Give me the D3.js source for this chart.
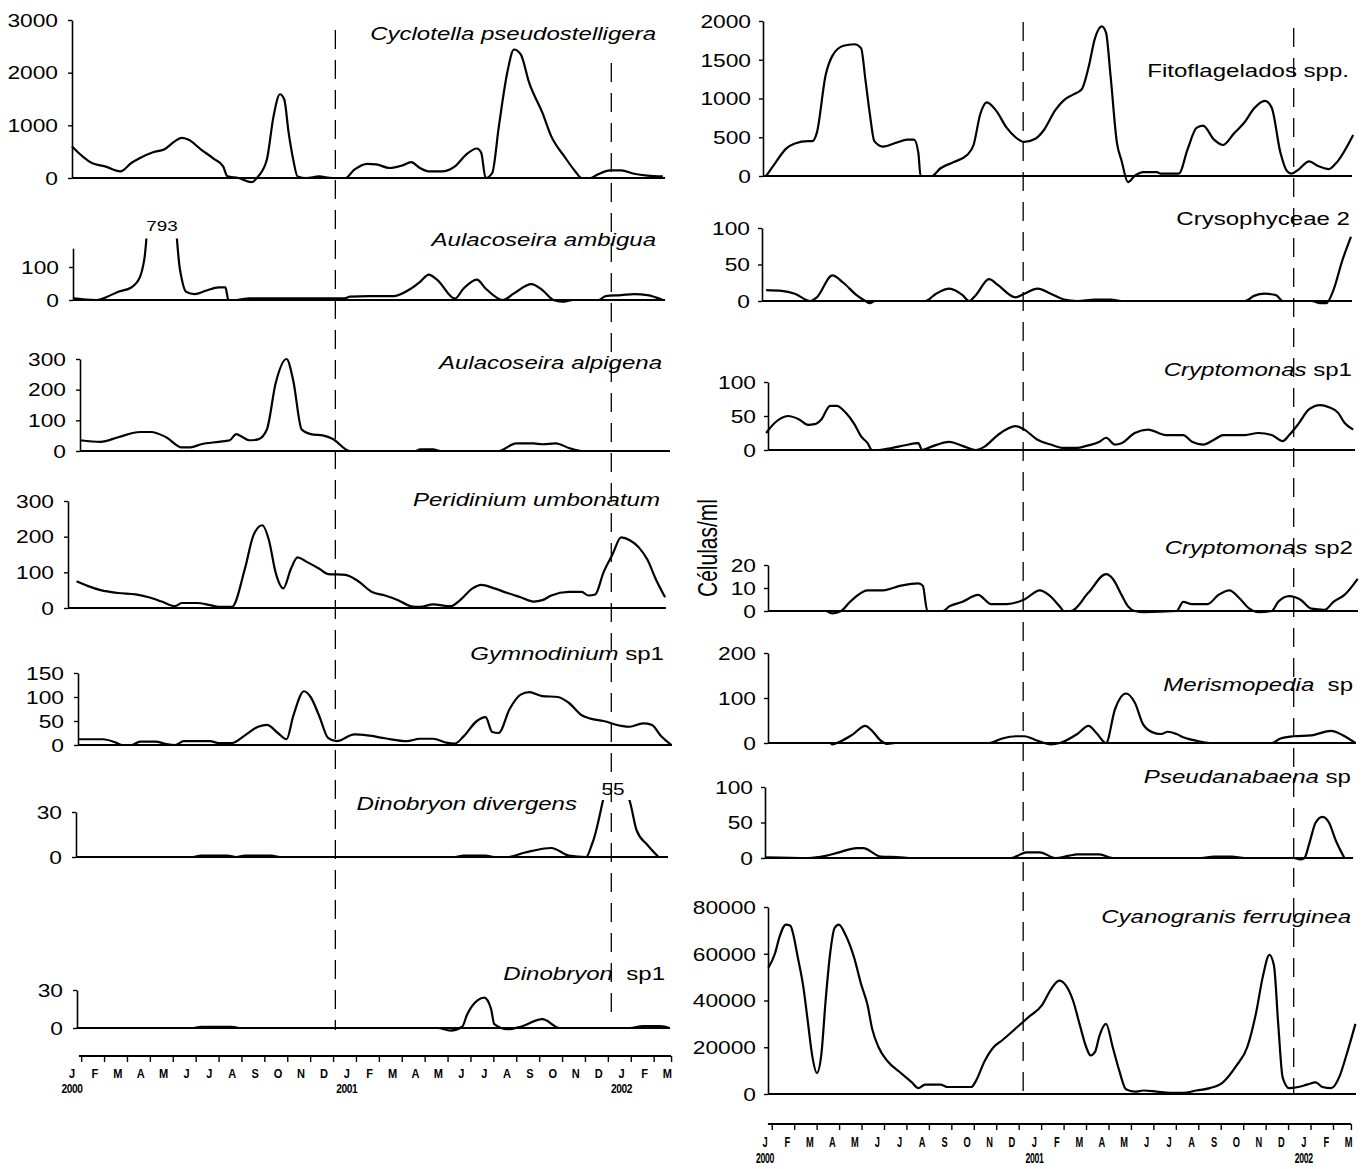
<!DOCTYPE html>
<html>
<head>
<meta charset="utf-8">
<script src="https://cdn.jsdelivr.net/npm/d3@7"></script>
<style>
  body { margin: 0; background: #fff; }
</style>
</head>
<body>
<div id="chart"></div>
<script>
// months counted from Jan 2000 (0) to Mar 2002 (26); values in cells/ml
var monthLetters = ["J","F","M","A","M","J","J","A","S","O","N","D","J","F","M","A","M","J","J","A","S","O","N","D","J","F","M"];
var yearMonths = [0, 12, 24];
var yearLabels = ["2000", "2001", "2002"];
var yearBreaks = [11.5, 23.55];

/// left column
var cyclotella = [[0,600],[0.87,285],[1.44,220],[2.11,125],[2.59,285],[2.97,380],[3.54,490],[4.02,540],[4.5,700],[4.79,760],[5.07,730],[5.64,540],[6.21,360],[6.6,220],[6.79,30],[7.27,0],[7.84,-80],[8.13,30],[8.51,350],[8.8,1170],[9.08,1590],[9.27,1490],[9.46,860],[9.66,350],[9.85,30],[10.23,0],[10.79,30],[11.37,0],[11.94,0],[12.33,160],[12.9,270],[13.28,260],[13.86,190],[14.43,240],[14.81,300],[15.19,190],[15.56,125],[16.15,125],[16.72,220],[17.2,440],[17.68,560],[17.87,480],[18.06,0],[18.35,95],[18.64,980],[19.02,2030],[19.3,2440],[19.59,2350],[19.97,1800],[20.54,1240],[20.93,790],[21.5,410],[21.98,125],[22.26,0],[22.64,0],[22.93,60],[23.5,145],[23.98,145],[24.55,80],[25.13,45],[25.8,30]];
var ambigua = [[0.07,5],[0.49,2],[1.06,0],[1.54,10],[2.02,25],[2.59,38],[2.97,70],[3.15,120],[3.9,793],[4.72,90],[4.98,25],[5.36,18],[5.84,28],[6.41,38],[6.7,38],[6.83,0],[7.2,0],[7.74,5],[11.9,5],[12.14,10],[13.0,12],[14.05,12],[14.81,35],[15.2,55],[15.58,77],[15.96,60],[16.72,4],[17.1,35],[17.68,62],[18.06,35],[18.82,0],[19.3,20],[20.06,48],[20.54,30],[21.02,0],[21.4,-5],[21.9,0],[23.0,0],[23.3,12],[23.98,15],[24.55,18],[25.13,15],[25.8,0]];
var alpigena = [[0.36,35],[1.25,30],[2.02,45],[2.97,62],[3.45,62],[4.11,45],[4.79,12],[5.17,12],[5.64,22],[6.41,30],[6.89,35],[7.17,55],[7.46,45],[7.74,35],[8.13,38],[8.51,70],[8.89,220],[9.37,300],[9.66,230],[10.03,70],[10.42,55],[10.99,50],[11.37,40],[12.14,0],[15.0,0],[15.2,5],[15.77,5],[16.1,0],[18.63,0],[19.4,25],[20.16,25],[20.54,22],[21.12,25],[21.69,10],[22.26,0],[26.08,0]];
var peridinium = [[0.2,75],[0.68,62],[1.25,50],[2.02,42],[2.78,38],[3.35,30],[3.92,18],[4.5,5],[4.79,14],[5.45,14],[6.03,8],[6.41,3],[6.98,3],[7.55,110],[7.93,205],[8.31,232],[8.6,190],[8.89,100],[9.23,55],[9.56,110],[9.85,142],[10.23,130],[10.8,110],[11.18,95],[11.94,93],[12.5,75],[13.1,45],[13.67,35],[14.24,22],[14.81,5],[15.2,3],[15.77,10],[16.53,5],[16.91,20],[17.49,55],[17.87,65],[18.44,55],[19.02,42],[19.59,30],[20.16,18],[20.54,22],[20.93,35],[21.69,45],[22.26,45],[22.55,35],[22.85,38],[23.21,100],[23.6,150],[23.98,198],[24.36,190],[24.75,170],[25.13,135],[25.5,80],[25.9,30]];
var gymnodinium = [[0.26,12],[1.35,12],[1.92,5],[2.2,0],[2.6,0],[2.97,7],[3.64,7],[4.11,2],[4.5,0],[4.88,8],[6.03,8],[6.41,4],[6.98,4],[7.55,20],[8.13,38],[8.51,42],[8.99,25],[9.37,12],[9.66,60],[10.13,112],[10.42,100],[10.8,60],[11.18,15],[11.56,8],[12.33,22],[12.9,20],[13.67,14],[14.62,8],[15.19,13],[15.77,13],[16.34,5],[16.72,3],[17.1,18],[17.68,50],[18.06,58],[18.35,27],[18.63,25],[19.11,75],[19.59,105],[19.97,110],[20.54,102],[21.21,100],[21.69,88],[22.26,62],[22.64,55],[23.21,50],[23.98,40],[24.36,38],[24.93,45],[25.32,42],[25.7,20],[26.18,0]];
var divergens = [[0.2,0],[5.26,0],[5.64,1],[6.79,1],[7.17,0],[7.55,1],[8.7,1],[9.08,0],[16.72,0],[17.1,1],[18.06,1],[18.44,0],[19.02,0],[19.78,3],[20.93,6],[21.69,1],[22.45,0],[22.74,10],[23.6,55],[24.36,37],[24.65,18],[25.13,8],[25.61,0]];
var dinobryonSp1 = [[0.2,0],[5.3,0],[5.64,1],[6.98,1],[7.3,0],[15.96,0],[16.53,-2],[17.04,1],[17.24,10],[17.72,22],[18.0,24],[18.3,15],[18.44,3],[19.02,-1],[19.59,1],[20.54,7],[21.3,0],[24.36,0],[24.93,1.5],[25.7,1.5],[26.08,0]];

/// right column
var fitoflagelados = [[0.05,0],[0.44,160],[0.93,350],[1.33,420],[1.92,450],[2.11,450],[2.31,560],[2.7,1300],[3.0,1550],[3.49,1680],[3.98,1700],[4.28,1650],[4.47,1250],[4.67,800],[4.87,450],[5.26,380],[5.85,430],[6.34,470],[6.64,470],[6.83,300],[6.93,0],[7.42,0],[7.82,100],[8.41,180],[9.0,270],[9.29,400],[9.59,800],[9.88,950],[10.28,850],[10.77,620],[11.16,500],[11.55,440],[12.04,480],[12.44,600],[12.93,850],[13.32,980],[13.72,1050],[14.11,1120],[14.41,1400],[14.7,1780],[15.0,1930],[15.19,1850],[15.39,1300],[15.68,420],[15.88,200],[16.17,-80],[16.46,0],[16.86,50],[17.45,50],[17.65,30],[18.43,30],[18.83,350],[19.22,620],[19.51,650],[20.0,470],[20.4,400],[20.89,550],[21.38,700],[21.78,870],[22.27,970],[22.57,880],[22.96,300],[23.26,60],[23.45,30],[23.75,80],[24.24,190],[24.63,130],[25.12,90],[25.42,160],[26.2,530]];
var crysophyceae = [[0.05,15],[0.74,14],[1.33,10],[2.02,0],[2.31,5],[3.0,35],[3.49,25],[4.08,8],[4.47,0],[4.67,-3],[4.9,0],[7.13,0],[7.62,10],[8.21,17],[8.8,8],[9.09,0],[9.39,8],[9.98,30],[10.37,22],[11.16,5],[11.55,10],[12.14,17],[12.73,10],[13.32,2],[13.91,0],[14.7,2],[15.4,2],[15.88,0],[21.38,0],[21.78,7],[22.27,10],[22.76,8],[23.06,0],[24.34,0],[24.73,-3],[25.0,-3],[25.32,15],[25.71,55],[26.1,88]];
var cryptomonas1 = [[0.05,25],[0.44,40],[1.03,50],[1.52,45],[1.92,37],[2.21,38],[2.51,45],[2.9,65],[3.2,65],[3.59,55],[3.98,38],[4.28,20],[4.57,10],[4.77,0],[5.06,0],[5.65,3],[6.24,7],[6.83,10],[7.0,0],[7.42,5],[8.21,12],[8.8,6],[9.39,0],[9.78,5],[10.37,22],[11.16,35],[11.55,30],[12.14,15],[12.73,8],[13.32,3],[13.91,3],[14.31,6],[14.9,12],[15.19,18],[15.59,8],[15.88,10],[16.47,25],[17.06,30],[17.85,22],[18.63,22],[19.02,12],[19.51,8],[20.0,15],[20.4,22],[21.38,22],[21.97,25],[22.57,22],[23.06,13],[23.35,22],[23.75,38],[24.24,60],[24.73,66],[25.12,63],[25.52,55],[25.81,40],[26.2,30]];
var cryptomonas2 = [[0.15,0],[2.7,0],[3.0,-1],[3.39,0],[3.79,4],[4.57,9],[5.26,9],[6.05,11],[6.83,12],[7.03,11],[7.23,0],[7.92,0],[8.21,2],[8.8,4],[9.49,7],[10.08,3],[10.77,3],[11.55,5],[12.24,9],[12.64,7],[13.13,2],[13.32,0],[13.62,0],[14.41,8],[15.19,16],[15.49,14],[15.88,7],[16.17,2],[16.47,0],[16.9,-0.5],[18.33,0],[18.63,4],[19.02,3],[19.71,3],[20.2,7],[20.69,9],[21.09,6],[21.58,1],[21.97,-0.5],[22.57,0],[22.86,4],[23.35,6.5],[23.84,5],[24.34,1],[24.93,0.5],[25.32,4],[25.81,7],[26.4,14]];
var merismopedia = [[0.15,0],[2.9,0],[3.0,-3],[3.3,2],[3.88,18],[4.47,38],[4.75,28],[5.16,5],[5.46,-2],[5.8,0],[9.98,0],[10.57,10],[11.16,15],[11.55,15],[12.14,5],[12.73,-3],[13.13,0],[13.91,20],[14.41,38],[14.8,20],[15.19,0],[15.59,75],[16.08,110],[16.47,90],[16.86,40],[17.36,22],[17.65,20],[17.94,25],[18.33,20],[18.63,13],[19.22,5],[19.81,0],[22.57,0],[22.96,10],[23.55,15],[24.34,17],[25.22,27],[25.71,18],[26.3,0]];
var pseudanabaena = [[0.05,1],[1.92,0],[2.7,3],[3.3,8],[4.08,14],[4.37,14],[5.16,2],[6.05,1],[6.4,0],[10.96,0],[11.65,8],[12.24,8],[12.93,0],[13.52,3],[13.91,5],[14.9,5],[15.49,0],[19.41,0],[20.0,2],[20.79,2],[21.38,0],[23.55,0],[23.84,-2],[24.03,0],[24.24,20],[24.53,50],[24.83,58],[25.12,50],[25.42,25],[25.81,0]];
var cyanogranis = [[0.15,54000],[0.44,60000],[0.64,67000],[0.93,72500],[1.13,72000],[1.29,67000],[1.43,60000],[1.72,45000],[1.92,30000],[2.11,16000],[2.31,9000],[2.51,17000],[2.7,40000],[2.9,60000],[3.1,71000],[3.29,72500],[3.59,68000],[3.98,58000],[4.28,47000],[4.57,38000],[4.77,28000],[5.06,20000],[5.46,14000],[6.05,9000],[6.54,5000],[6.83,2500],[7.13,4000],[7.82,4000],[8.11,3000],[9.19,3000],[9.39,5500],[9.78,14000],[10.18,20000],[10.57,23000],[11.16,28000],[11.75,33000],[12.34,38000],[12.75,45000],[13.1,48500],[13.4,46500],[13.72,40000],[14.01,30000],[14.31,20000],[14.5,16500],[14.7,18000],[14.9,25000],[15.19,30000],[15.49,20000],[15.78,10000],[16.08,2000],[16.47,1000],[16.86,1500],[17.45,1000],[18.04,500],[18.63,500],[19.22,1500],[19.81,2500],[20.4,5000],[20.99,12000],[21.48,20000],[21.88,35000],[22.17,50000],[22.47,59500],[22.67,55000],[22.86,30000],[23.06,7000],[23.35,2500],[23.75,3000],[24.14,4000],[24.53,5000],[24.83,3000],[25.22,2500],[25.61,8000],[25.91,17000],[26.3,30000]];

/// tick values
var ticks3000 = [0, 1000, 2000, 3000];
var ticks100 = [0, 100];
var ticks300 = [0, 100, 200, 300];
var ticks150 = [0, 50, 100, 150];
var ticks30 = [0, 30];
var ticks2000 = [0, 500, 1000, 1500, 2000];
var ticks50 = [0, 50, 100];
var ticks20 = [0, 10, 20];
var ticks200 = [0, 100, 200];
var ticks80000 = [0, 20000, 40000, 60000, 80000];

var FONT = '"Liberation Sans", Arial, Helvetica, sans-serif';
var SX = 1.3; // the scanned figure is stretched sideways

// name parts: [text, italic]
var panels = [
    {col: "L", data: cyclotella, ticks: ticks3000, name: [["Cyclotella pseudostelligera", 1]], tx: 656, ty: 33, zero: 178, ref: 3000, refY: 20, top: 3000, ax: 72, end: 665},
    {col: "L", data: ambigua, ticks: ticks100, name: [["Aulacoseira ambigua", 1]], tx: 656, ty: 239, zero: 300, ref: 100, refY: 267, top: 157, ax: 73, end: 665, clip: 186, note: "793", nx: 162, ny: 226},
    {col: "L", data: alpigena, ticks: ticks300, name: [["Aulacoseira alpigena", 1]], tx: 662, ty: 362, zero: 451, ref: 300, refY: 359, top: 300, ax: 80, end: 670},
    {col: "L", data: peridinium, ticks: ticks300, name: [["Peridinium umbonatum", 1]], tx: 660, ty: 499, zero: 608, ref: 300, refY: 501, top: 300, ax: 68, end: 666},
    {col: "L", data: gymnodinium, ticks: ticks150, name: [["Gymnodinium", 1], [" sp1", 0]], tx: 664, ty: 653, zero: 745, ref: 150, refY: 673, top: 150, ax: 78, end: 672},
    {col: "L", data: divergens, ticks: ticks30, name: [["Dinobryon divergens", 1]], tx: 577, ty: 803, zero: 857, ref: 30, refY: 812, top: 30, ax: 76, end: 668, clip: 38, note: "55", nx: 613, ny: 789},
    {col: "L", data: dinobryonSp1, ticks: ticks30, name: [["Dinobryon", 1], ["  sp1", 0]], tx: 665, ty: 973, zero: 1028, ref: 30, refY: 990, top: 30, ax: 77, end: 670},
    {col: "R", data: fitoflagelados, ticks: ticks2000, name: [["Fitoflagelados spp.", 0]], tx: 1349, ty: 70, zero: 176, ref: 2000, refY: 21, top: 2000, ax: 763, end: 1352},
    {col: "R", data: crysophyceae, ticks: ticks50, name: [["Crysophyceae 2", 0]], tx: 1350, ty: 218, zero: 301, ref: 100, refY: 228, top: 100, ax: 762, end: 1352},
    {col: "R", data: cryptomonas1, ticks: ticks50, name: [["Cryptomonas", 1], [" sp1", 0]], tx: 1352, ty: 369, zero: 450, ref: 100, refY: 382, top: 100, ax: 768, end: 1355},
    {col: "R", data: cryptomonas2, ticks: ticks20, name: [["Cryptomonas", 1], [" sp2", 0]], tx: 1353, ty: 547, zero: 611, ref: 20, refY: 565, top: 20, ax: 768, end: 1358},
    {col: "R", data: merismopedia, ticks: ticks200, name: [["Merismopedia", 1], ["  sp", 0]], tx: 1353, ty: 684, zero: 743, ref: 200, refY: 653, top: 200, ax: 768, end: 1356},
    {col: "R", data: pseudanabaena, ticks: ticks50, name: [["Pseudanabaena", 1], [" sp", 0]], tx: 1351, ty: 776, zero: 858, ref: 100, refY: 787, top: 100, ax: 765, end: 1353},
    {col: "R", data: cyanogranis, ticks: ticks80000, name: [["Cyanogranis ferruginea", 1]], tx: 1351, ty: 916, zero: 1094, ref: 80000, refY: 907, top: 80000, ax: 768, end: 1356}
];

var svg = d3.select("#chart")
    .append("svg")
    .attr("width", 1369)
    .attr("height", 1169)
    .style("font-family", FONT);

var xLeft = d3.scaleLinear().domain([0, 26]).range([72, 667.4]);
var xRight = d3.scaleLinear().domain([0, 26]).range([765, 1348.7]);

/// dashed year lines
var dashSpans = {L: [[30, 1030], [63, 1015]], R: [[22, 1095], [28, 1095]]};
["L", "R"].forEach(function (col) {
    var x = col == "L" ? xLeft : xRight;
    yearBreaks.forEach(function (m, i) {
        svg.append("line")
            .attr("x1", x(m)).attr("x2", x(m))
            .attr("y1", dashSpans[col][i][0]).attr("y2", dashSpans[col][i][1])
            .attr("stroke", "#000")
            .attr("stroke-width", 1.3)
            .attr("stroke-dasharray", "19,11");
    });
});

/// panels
panels.forEach(function (p, i) {
    var x = p.col == "L" ? xLeft : xRight;
    var y = d3.scaleLinear().domain([0, p.ref]).range([p.zero, p.refY]);
    var g = svg.append("g");

    var yAxisScale = d3.scaleLinear().domain([0, p.top]).range([p.zero, y(p.top)]);
    var gap = p.col == "L" ? 14 : 12;
    var ag = g.append("g")
        .attr("transform", `translate(${p.ax},0)`)
        .call(d3.axisLeft(yAxisScale).tickValues(p.ticks).tickSize(4).tickSizeOuter(0).tickFormat(d3.format("d")));
    ag.attr("font-family", FONT);
    ag.select(".domain").attr("stroke-width", 1.6);
    ag.selectAll(".tick line").attr("stroke-width", 1.4);
    ag.selectAll(".tick text")
        .attr("x", null)
        .attr("dy", "0.36em")
        .attr("font-size", 17.5)
        .attr("fill", "#000")
        .attr("transform", `translate(${-gap},0) scale(${SX},1)`);

    // zero line
    g.append("line")
        .attr("x1", p.ax).attr("x2", p.end)
        .attr("y1", p.zero).attr("y2", p.zero)
        .attr("stroke", "#000")
        .attr("stroke-width", 2);

    var clipTop = p.clip != null ? y(p.clip) : 0;
    svg.append("clipPath").attr("id", "clip" + i)
        .append("rect")
        .attr("x", 0).attr("y", clipTop)
        .attr("width", 1369).attr("height", 1169 - clipTop);

    var line = d3.line()
        .x(d => x(d[0]))
        .y(d => y(d[1]))
        .curve(d3.curveMonotoneX);

    g.append("path")
        .datum(p.data)
        .attr("d", line)
        .attr("clip-path", `url(#clip${i})`)
        .attr("fill", "none")
        .attr("stroke", "#000")
        .attr("stroke-width", 2.2)
        .attr("stroke-linejoin", "round");

    // species name
    var t = g.append("text")
        .attr("transform", `translate(${p.tx},${p.ty}) scale(${SX},1)`)
        .attr("dy", "0.36em")
        .attr("text-anchor", "end")
        .attr("font-size", 18.5)
        .attr("fill", "#000")
        .attr("xml:space", "preserve");
    p.name.forEach(function (part) {
        t.append("tspan")
            .attr("font-style", part[1] ? "italic" : "normal")
            .text(part[0]);
    });

    if (p.note) {
        g.append("text")
            .attr("transform", `translate(${p.nx},${p.ny}) scale(${SX},1)`)
            .attr("dy", "0.36em")
            .attr("text-anchor", "middle")
            .attr("font-size", p.note == "793" ? 14.5 : 16)
            .text(p.note);
    }
});

/// month axes at the bottom of each column
var axisCfg = [
    {x: xLeft, y: 1056, from: 0.3, to: 26.16, tickShift: 0.4, letterY: 1073, yearY: 1089, size: 13, sx: 0.85},
    {x: xRight, y: 1124, from: 0.13, to: 26.1, tickShift: 0.3, letterY: 1142, yearY: 1158, size: 15, sx: 0.62}
];
axisCfg.forEach(function (a) {
    var tickVals = d3.range(0, 26).map(j => j + a.tickShift).concat([a.to]);
    var bg = svg.append("g")
        .attr("transform", `translate(0,${a.y})`)
        .call(d3.axisBottom(a.x).tickValues(tickVals).tickSize(6).tickFormat(""));
    bg.select(".domain").remove();
    bg.selectAll(".tick line").attr("stroke-width", 1.4);
    svg.append("line")
        .attr("x1", a.x(a.from)).attr("x2", a.x(a.to))
        .attr("y1", a.y).attr("y2", a.y)
        .attr("stroke", "#000").attr("stroke-width", 2);

    monthLetters.forEach(function (l, k) {
        svg.append("text")
            .attr("transform", `translate(${a.x(k)},${a.letterY}) scale(${a.sx},1)`)
            .attr("dy", "0.36em")
            .attr("text-anchor", "middle")
            .attr("font-size", a.size)
            .attr("font-weight", "bold")
            .text(l);
    });
    yearMonths.forEach(function (m, i) {
        svg.append("text")
            .attr("transform", `translate(${a.x(m)},${a.yearY}) scale(${a.sx},1)`)
            .attr("dy", "0.36em")
            .attr("text-anchor", "middle")
            .attr("font-size", a.size - 1)
            .attr("font-weight", "bold")
            .attr("letter-spacing", -0.5)
            .text(yearLabels[i]);
    });
});

/// unit label
svg.append("text")
    .attr("transform", `translate(707,548) rotate(-90) scale(1,${SX})`)
    .attr("dy", "0.36em")
    .attr("text-anchor", "middle")
    .attr("font-size", 21)
    .text("Células/ml");
</script>
</body>
</html>
